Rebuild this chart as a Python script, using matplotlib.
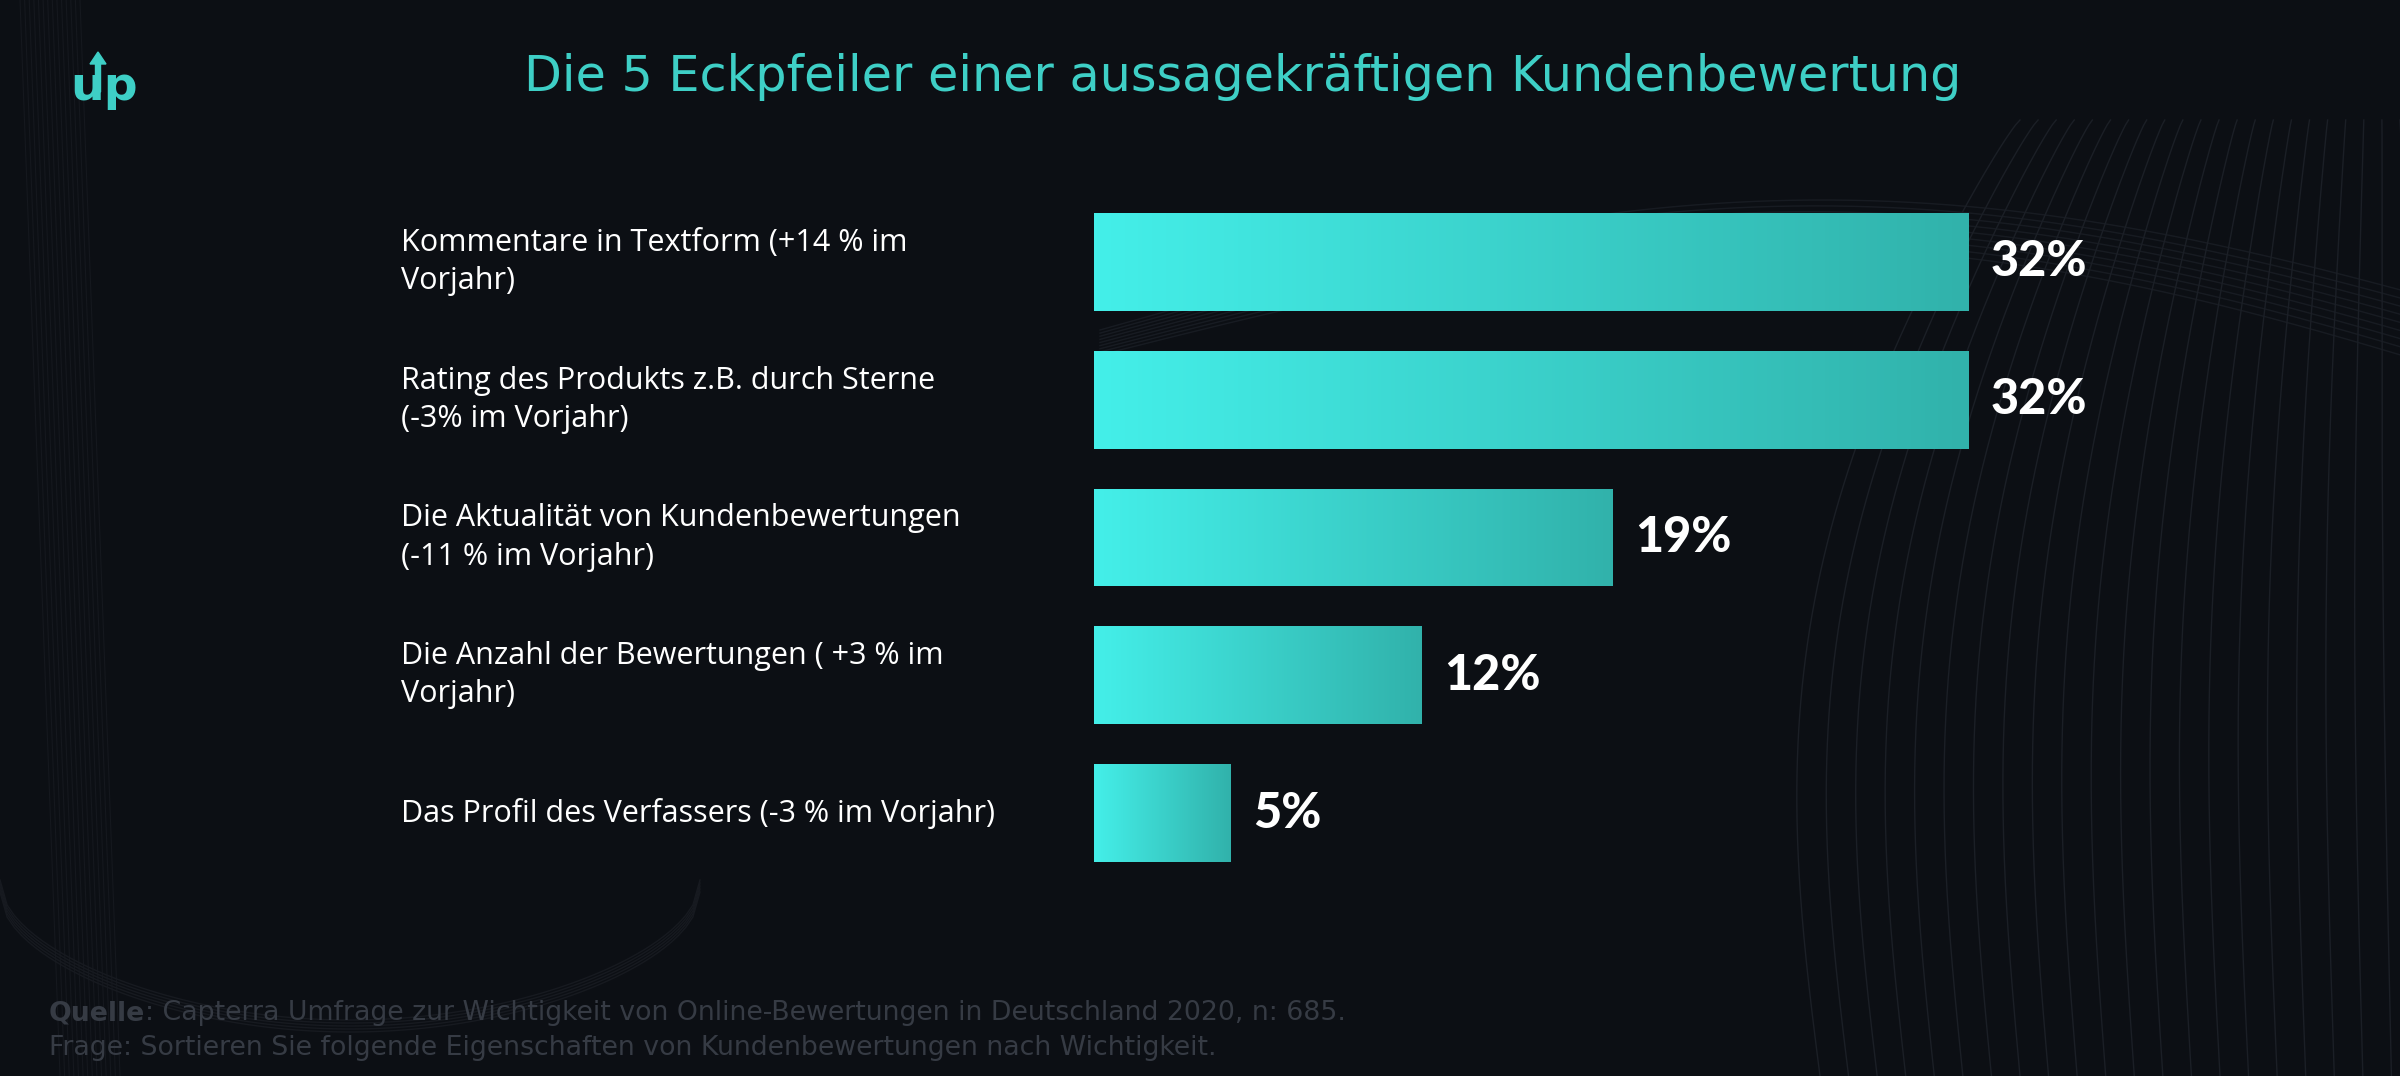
import numpy as np
import matplotlib.pyplot as plt
import matplotlib.transforms as mtransforms
from matplotlib.colors import LinearSegmentedColormap
from matplotlib.patches import FancyArrow

# data
categories = [
    "Kommentare in Textform (+14 % im\nVorjahr)",
    "Rating des Produkts z.B. durch Sterne\n(-3% im Vorjahr)",
    "Die Aktualität von Kundenbewertungen\n(-11 % im Vorjahr)",
    "Die Anzahl der Bewertungen ( +3 % im\nVorjahr)",
    "Das Profil des Verfassers (-3 % im Vorjahr)",
]
values = [32, 32, 19, 12, 5]
value_labels = ["32%", "32%", "19%", "12%", "5%"]

title = "Die 5 Eckpfeiler einer aussagekräftigen Kundenbewertung"
source_bold = "Quelle"
source_rest = ": Capterra Umfrage zur Wichtigkeit von Online-Bewertungen in Deutschland 2020, n: 685."
question = "Frage: Sortieren Sie folgende Eigenschaften von Kundenbewertungen nach Wichtigkeit."

BG = "#0c0f14"
TEAL = "#3ecfc6"
GRID = "#1b1f26"
FOOT = "#363b44"

W, H = 2400, 1076
fig = plt.figure(figsize=(W / 100, H / 100), dpi=100, facecolor=BG)

# background mesh (decoration only)
bg = fig.add_axes([0, 0, 1, 1])
bg.set_xlim(0, W)
bg.set_ylim(H, 0)
bg.axis("off")
t = np.linspace(0, 1, 200)
for k in np.linspace(0, 1, 22):
    top = 2020 + 380 * k
    bot = 1820 + 600 * k
    xs = top + (bot - top) * t ** 0.8 - 90 * np.sin(np.pi * t) * (1 - k)
    bg.plot(xs, 120 + (H - 120) * t, color=GRID, lw=1.0)
for k in np.linspace(0, 1, 9):
    xs = np.linspace(1100, W, 200)
    u = (xs - 1100) / (W - 1100)
    ys = 330 - 130 * np.sin(np.pi * u * 0.9) + 25 * k + 40 * k * u
    bg.plot(xs, ys, color=GRID, lw=1.0, alpha=0.8)
for k in np.linspace(0, 1, 14):
    x0 = 20 + 60 * k
    bg.plot(x0 + 40 * t, 1076 * t, color="#15181e", lw=0.8)
for k in np.linspace(0, 1, 5):
    xs = np.linspace(0, 700, 100)
    ys = 880 + 140 * np.sin(np.pi * xs / 700) ** 0.5 + 12 * k
    bg.plot(xs, ys, color="#171a20", lw=1.0)

# bars
ax = fig.add_axes([1094 / W, 1 - 882 / H, 874 / W, (882 - 193) / H])
ax.set_facecolor("none")
y = np.arange(len(values))
bars = ax.barh(y, values, height=0.71, color="none")
cmap = LinearSegmentedColormap.from_list("g", ["#44efe9", "#31b2ab"])
grad = np.linspace(0, 1, 256).reshape(1, -1)
for bar in bars:
    x0, y0 = bar.get_x(), bar.get_y()
    w, h = bar.get_width(), bar.get_height()
    im = ax.imshow(grad, cmap=cmap, aspect="auto",
                   extent=(x0, x0 + w, y0 + h, y0), zorder=2)
    im.set_clip_path(bar)
ax.set_xlim(0, 32)
ax.set_ylim(len(values) - 0.5, -0.5)
ax.axis("off")

for i, (v, lab) in enumerate(zip(values, value_labels)):
    ax.annotate(lab, (v, i), xytext=(16, 0), textcoords="offset points",
                ha="left", va="center", color="white", fontsize=35,
                fontweight="black", family="Lato")

lab_tr = mtransforms.blended_transform_factory(fig.transFigure, ax.transData)
for i, c in enumerate(categories):
    ax.text(401 / W, i, c, transform=lab_tr, ha="left", va="center",
            color="white", fontsize=22, linespacing=1.35, family="Open Sans")

# title and logo
fig.text(1243 / W, 1 - 77 / H, title, ha="center", va="center",
         color=TEAL, fontsize=35.5, family="DejaVu Sans")
fig.text(70 / W, 1 - 88 / H, "up", ha="left", va="center", color=TEAL,
         fontsize=34, fontweight="bold", family="DejaVu Sans")
fig.add_artist(FancyArrow(98, H - 92, 0, 28, width=5, head_width=16,
                          head_length=12, color=TEAL,
                          transform=mtransforms.IdentityTransform()))

# footer
q = fig.text(49 / W, 1 - 1013 / H, source_bold, ha="left", va="center",
             color=FOOT, fontsize=19.3, fontweight="bold")
ax.annotate(source_rest, xy=(1, 0.5), xycoords=q, ha="left", va="center",
            color=FOOT, fontsize=19.3, annotation_clip=False)
fig.text(49 / W, 1 - 1048 / H, question, ha="left", va="center",
         color=FOOT, fontsize=19.3)

fig.savefig("out.png", dpi=100, facecolor=BG)
